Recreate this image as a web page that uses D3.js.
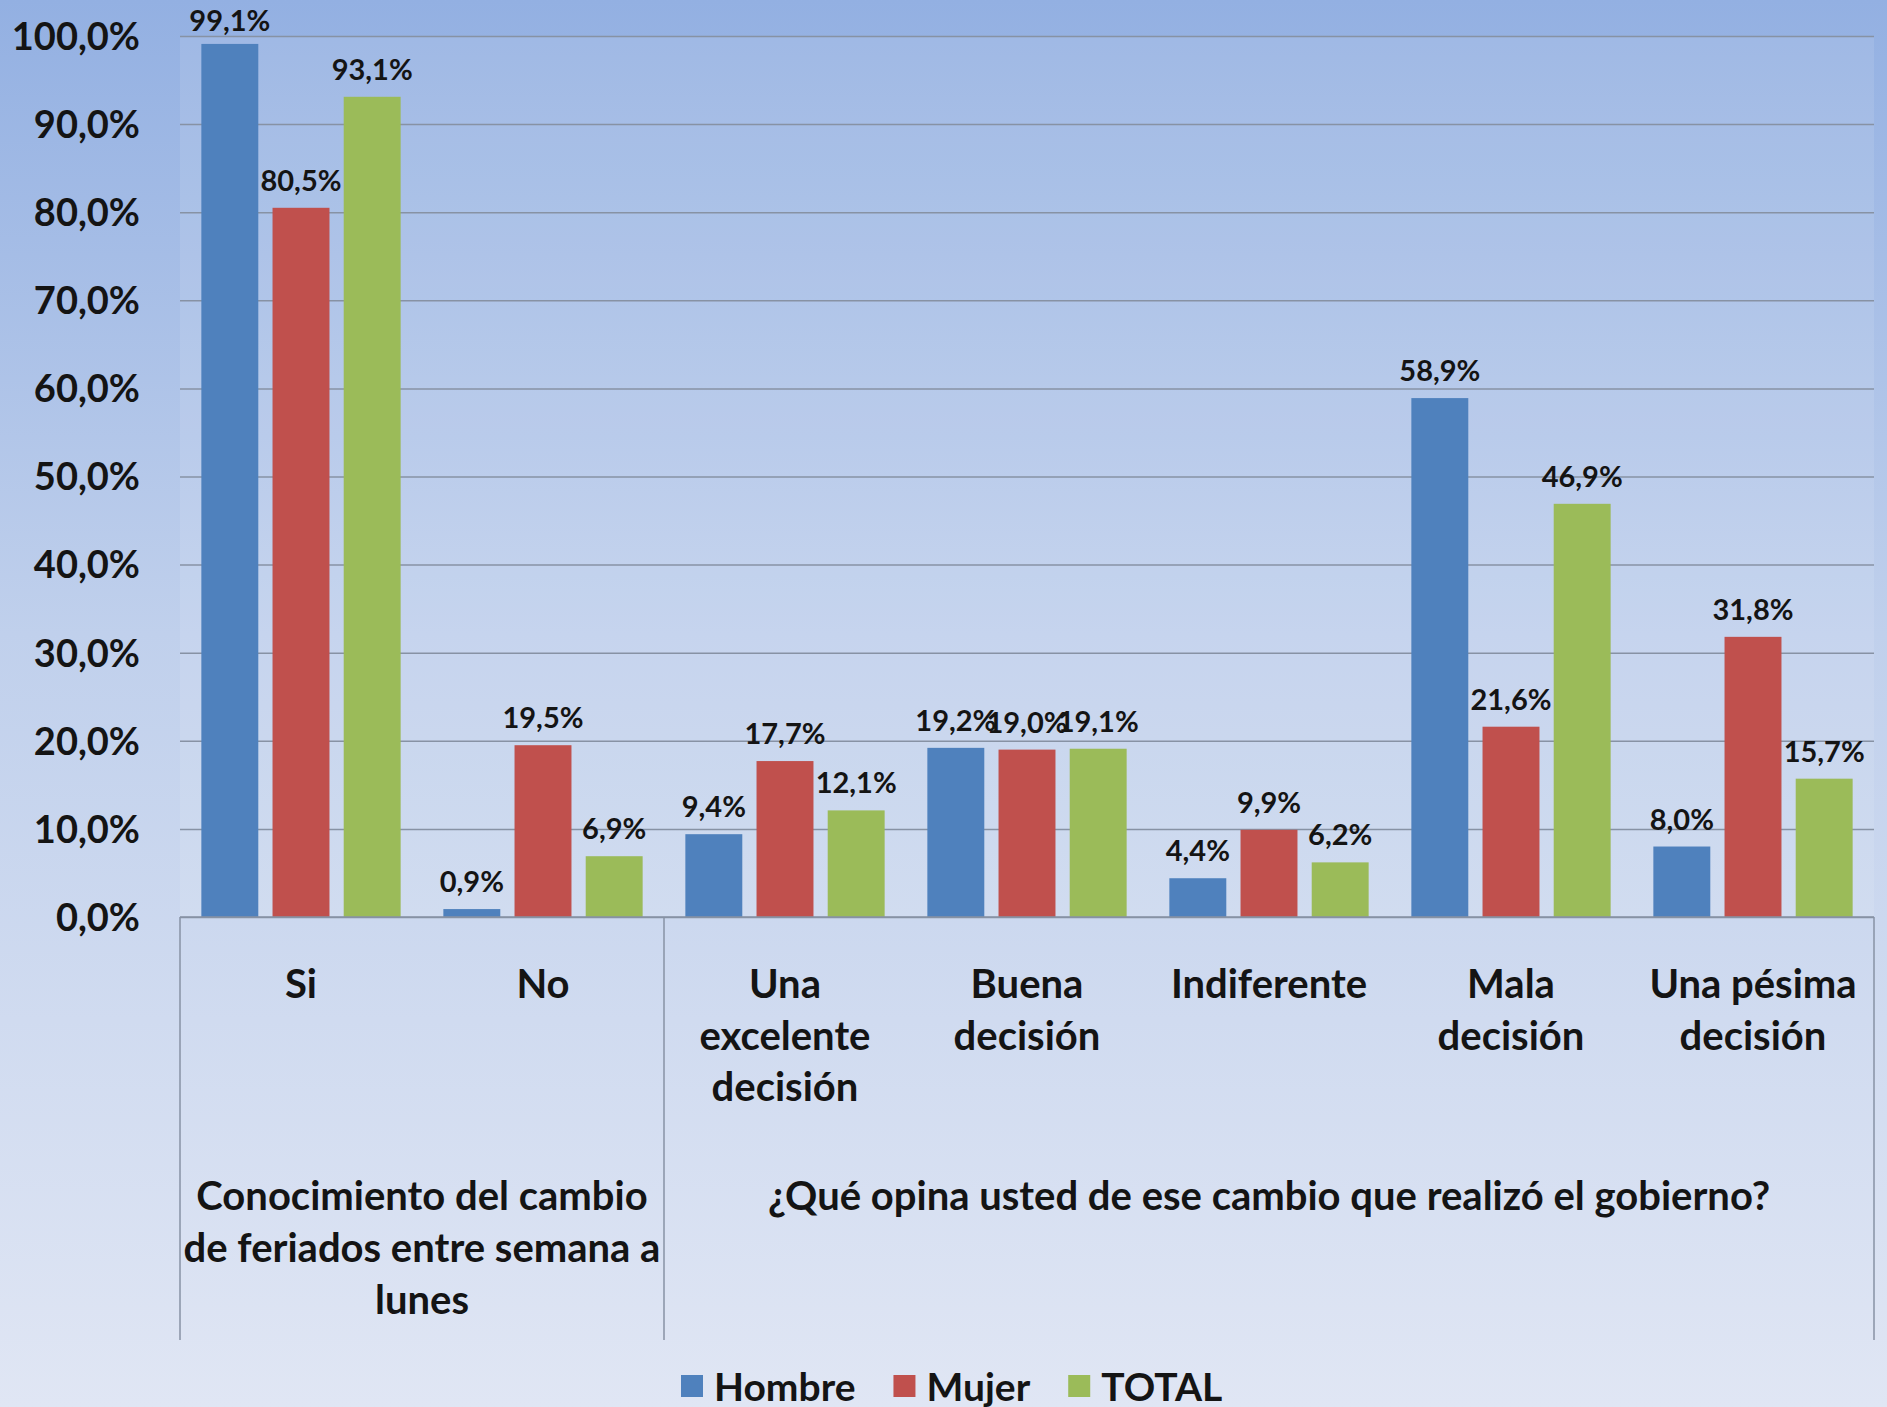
<!DOCTYPE html>
<html lang="es">
<head>
    <meta charset="UTF-8">
    <title>Feriados</title>
    <style>
        body, html { margin: 0; padding: 0; overflow: hidden; }
        text { font-family: Lato, "Open Sans", sans-serif; font-weight: 700; fill: #141414; }
    </style>
    <script src="https://d3js.org/d3.v7.min.js"></script>
</head>
<body>
<div id="chart"></div>
<script>
    // data
    let categories = ['Si', 'No', 'Una excelente decisión', 'Buena decisión', 'Indiferente', 'Mala decisión', 'Una pésima decisión'];
    let catLines = [['Si'], ['No'], ['Una', 'excelente', 'decisión'], ['Buena', 'decisión'], ['Indiferente'], ['Mala', 'decisión'], ['Una pésima', 'decisión']];
    let series = ['Hombre', 'Mujer', 'TOTAL'];
    let hombre = [99.1, 0.9, 9.4, 19.2, 4.4, 58.9, 8.0];
    let mujer = [80.5, 19.5, 17.7, 19.0, 9.9, 21.6, 31.8];
    let total = [93.1, 6.9, 12.1, 19.1, 6.2, 46.9, 15.7];
    let groups = [
        {name: 'Conocimiento', cats: ['Si', 'No'], lines: ['Conocimiento del cambio', 'de feriados entre semana a', 'lunes']},
        {name: 'Opinion', cats: ['Una excelente decisión', 'Buena decisión', 'Indiferente', 'Mala decisión', 'Una pésima decisión'],
            lines: ['¿Qué opina usted de ese cambio que realizó el gobierno?']}
    ];
    let yTicks = [0, 10, 20, 30, 40, 50, 60, 70, 80, 90, 100];

    let width = 1887, height = 1407;
    let colors = {Hombre: '#4f81bd', Mujer: '#c0504d', TOTAL: '#9bbb59'};
    let values = {Hombre: hombre, Mujer: mujer, TOTAL: total};

    let locale = d3.formatLocale({decimal: ',', thousands: '.', grouping: [3], currency: ['', '']});
    let fmt = locale.format('.1f');

    let svg = d3.select('#chart').append('svg')
        .attr('width', width).attr('height', height);

    let defs = svg.append('defs');
    let grad = defs.append('linearGradient').attr('id', 'bg')
        .attr('x1', 0).attr('y1', 0).attr('x2', 0).attr('y2', 1);
    grad.append('stop').attr('offset', '0%').attr('stop-color', '#93b0e2');
    grad.append('stop').attr('offset', '45%').attr('stop-color', '#c0d0ec');
    grad.append('stop').attr('offset', '100%').attr('stop-color', '#e0e6f4');

    svg.append('rect').attr('width', width).attr('height', height).attr('fill', 'url(#bg)');

    let plot = {left: 180, right: 1874, top: 36, bottom: 917, axisBottom: 1340};

    let x0 = d3.scaleBand().domain(categories).range([plot.left, plot.right]);
    let x1 = d3.scaleBand().domain(series).range([0, x0.bandwidth()])
        .paddingInner(0.2).paddingOuter(0.3);
    let y = d3.scaleLinear().domain([0, 100]).range([plot.bottom, plot.top]);

    // light plot area
    svg.append('rect')
        .attr('x', plot.left).attr('y', plot.top)
        .attr('width', plot.right - plot.left).attr('height', plot.bottom - plot.top)
        .attr('fill', '#ffffff').attr('opacity', 0.1);

    // gridlines + y labels
    let yAxis = d3.axisLeft(y).tickValues(yTicks)
        .tickSize(-(plot.right - plot.left))
        .tickPadding(40)
        .tickFormat(d => fmt(d) + '%');
    let gy = svg.append('g').attr('transform', `translate(${plot.left},0)`).call(yAxis);
    gy.select('.domain').remove();
    gy.selectAll('.tick line').attr('stroke', '#8792a4').attr('stroke-width', 1.5);
    gy.selectAll('.tick text').attr('font-size', 38).attr('dy', '0.35em')
        .attr('font-family', 'Lato, sans-serif').attr('font-weight', 700).attr('fill', '#141414');

    // bars
    let cat = svg.append('g').selectAll('g').data(categories).join('g')
        .attr('transform', d => `translate(${x0(d)},0)`);
    cat.selectAll('rect').data((d, i) => series.map(s => ({s: s, v: values[s][i]}))).join('rect')
        .attr('x', d => x1(d.s))
        .attr('y', d => y(d.v))
        .attr('width', x1.bandwidth())
        .attr('height', d => y(0) - y(d.v))
        .attr('fill', d => colors[d.s]);
    cat.selectAll('text.val').data((d, i) => series.map(s => ({s: s, v: values[s][i]}))).join('text')
        .attr('class', 'val')
        .attr('x', d => x1(d.s) + x1.bandwidth() / 2)
        .attr('y', d => Math.max(y(d.v) - 17, 31))
        .attr('text-anchor', 'middle')
        .attr('font-size', 29)
        .text(d => fmt(d.v) + '%');

    // category axis
    let axisG = svg.append('g');
    axisG.append('line').attr('x1', plot.left).attr('x2', plot.right)
        .attr('y1', plot.bottom).attr('y2', plot.bottom)
        .attr('stroke', '#8792a4').attr('stroke-width', 1.5);
    let groupEdges = [plot.left];
    groups.forEach(g => groupEdges.push(x0(g.cats[g.cats.length - 1]) + x0.bandwidth()));
    axisG.selectAll('line.sep').data(groupEdges).join('line')
        .attr('class', 'sep')
        .attr('x1', d => d).attr('x2', d => d)
        .attr('y1', plot.bottom).attr('y2', plot.axisBottom)
        .attr('stroke', '#8792a4').attr('stroke-width', 1.5);

    let catText = axisG.selectAll('text.cat').data(categories).join('text')
        .attr('class', 'cat')
        .attr('text-anchor', 'middle')
        .attr('font-size', 40);
    catText.selectAll('tspan').data((d, i) => catLines[i]).join('tspan')
        .attr('x', function () { return x0(d3.select(this.parentNode).datum()) + x0.bandwidth() / 2; })
        .attr('y', (d, i) => 984 + i * 51.7)
        .attr('dy', '0.35em')
        .text(d => d);

    let grpText = axisG.selectAll('text.grp').data(groups).join('text')
        .attr('class', 'grp')
        .attr('text-anchor', 'middle')
        .attr('font-size', 40);
    grpText.selectAll('tspan').data(d => d.lines).join('tspan')
        .attr('x', function () {
            let g = d3.select(this.parentNode).datum();
            return (x0(g.cats[0]) + x0(g.cats[g.cats.length - 1]) + x0.bandwidth()) / 2;
        })
        .attr('y', (d, i) => 1196 + i * 52)
        .attr('dy', '0.35em')
        .text(d => d);

    // legend
    let legend = svg.append('g');
    let lx = 681;
    series.forEach(s => {
        legend.append('rect').attr('x', lx).attr('y', 1375).attr('width', 22).attr('height', 22)
            .attr('fill', colors[s]);
        let t = legend.append('text').attr('x', lx + 33).attr('y', 1387).attr('dy', '0.35em')
            .attr('font-size', 39).text(s);
        lx += 33 + t.node().getComputedTextLength() + 38;
    });
</script>
</body>
</html>
